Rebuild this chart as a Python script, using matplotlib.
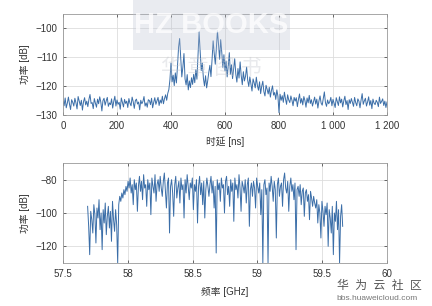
import numpy as np
import matplotlib.pyplot as plt
from matplotlib.patches import Rectangle

plt.rcParams['font.family'] = ['Liberation Sans', 'Noto Sans CJK SC', 'DejaVu Sans']

# power delay profile, one sample every 4 ns from 0 to 1200 ns
delay_step = 4
pdp_db = [
    -125.3, -126.8, -124.1, -127.5, -125.9, -123.8, -126.2, -128.1, -124.7, -125.6,
    -126.9, -124.2, -125.8, -127.9, -123.6, -125.1, -126.7, -124.9, -128.3, -125.4,
    -124.0, -126.5, -125.2, -127.1, -124.6, -122.9, -126.0, -125.7, -127.8, -124.3,
    -125.9, -127.3, -124.5, -126.1, -123.7, -125.5, -128.6, -125.0, -124.2, -126.6,
    -125.1, -123.9, -127.0, -125.8, -126.4, -124.4, -127.6, -125.3, -123.5, -126.9,
    -124.8, -126.3, -125.6, -128.0, -124.1, -125.7, -127.2, -124.6, -126.0, -125.2,
    -127.4, -124.3, -125.9, -126.8, -123.8, -125.4, -127.7, -125.0, -124.5, -126.2,
    -125.5, -128.2, -124.9, -126.1, -125.3, -123.6, -126.9, -125.8, -127.3, -124.7,
    -125.0, -126.4, -124.2, -127.5, -125.6, -124.0, -126.3, -125.1, -123.9, -126.7,
    -124.8, -125.9, -123.5, -126.1, -124.3, -123.0, -124.9, -122.5, -121.2, -117.8,
    -112.0, -118.5, -116.2, -119.8, -115.4, -118.9, -113.1, -106.5, -103.5, -110.2,
    -116.8, -113.4, -108.7, -117.5, -119.6, -116.0, -121.3, -118.2, -120.5, -117.1,
    -119.4, -115.9, -118.8, -114.3, -117.6, -109.5, -101.2, -107.8, -114.6, -112.0,
    -117.3, -119.9, -116.4, -120.6, -118.1, -115.2, -112.8, -116.7, -110.9, -104.3,
    -108.6, -112.4, -106.9, -100.8, -105.5, -110.7, -103.9, -108.2, -113.5, -109.1,
    -114.7, -111.3, -116.8, -113.0, -108.4, -115.9, -112.6, -117.4, -114.1, -110.5,
    -115.8, -118.6, -113.9, -117.2, -111.6, -116.3, -119.5, -115.0, -118.2, -116.6,
    -113.4, -117.9, -120.1, -116.8, -119.2, -121.7, -117.5, -118.9, -120.6, -116.9,
    -119.8, -121.4, -118.5, -122.6, -120.0, -118.3, -121.9, -123.4, -119.7, -121.1,
    -122.7, -120.4, -123.8, -121.5, -119.9, -123.1, -122.2, -124.6, -121.3, -123.5,
    -129.2, -122.8, -124.9, -123.3, -125.6, -122.1, -124.4, -126.3, -123.0, -124.8,
    -125.7, -123.4, -124.9, -126.8, -123.9, -125.2, -124.0, -127.1, -124.6, -122.7,
    -125.9, -124.3, -126.5, -123.6, -125.0, -127.3, -124.1, -125.8, -123.2, -126.0,
    -124.7, -126.9, -125.3, -123.8, -126.2, -124.5, -127.6, -125.1, -123.4, -125.9,
    -126.6, -124.2, -122.0, -125.7, -127.0, -124.8, -126.1, -125.4, -123.9, -126.8,
    -124.6, -125.9, -127.4, -124.0, -125.3, -126.7, -123.7, -125.8, -124.5, -127.2,
    -125.1, -123.5, -126.4, -125.0, -128.1, -124.7, -126.0, -124.3, -125.6, -127.0,
    -123.9, -125.7, -126.8, -124.4, -125.2, -127.5, -124.8, -122.6, -126.3, -125.1,
    -124.2, -126.9, -125.5, -123.7, -126.6, -125.0, -127.8, -124.5, -125.9, -126.4,
    -124.9, -125.6, -127.1, -123.8, -126.0, -125.3, -124.4, -126.7, -125.2, -127.4,
    -125.5,
]

# frequency response, one sample every 8 MHz from 57.69 GHz
freq_start = 57.69
freq_step = 0.008
fr_db = [
    -96, -108, -125, -99, -104, -112, -95, -101, -118, -97,
    -103, -92, -110, -100, -122, -98, -106, -94, -113, -102,
    -96, -109, -99, -117, -93, -104, -111, -98, -107, -130,
    -95, -90, -93, -88, -91, -86, -89, -84, -87, -81,
    -85, -79, -88, -83, -95, -80, -86, -82, -99, -84,
    -78, -87, -81, -92, -77, -85, -83, -96, -80, -86,
    -82, -101, -79, -84, -88, -77, -93, -83, -80, -87,
    -78, -85, -90, -81, -76, -86, -97, -82, -79, -112,
    -84, -80, -88, -102, -83, -78, -91, -85, -81, -94,
    -79, -86, -83, -103, -80, -88, -77, -84, -92, -82,
    -85, -79, -98, -83, -87, -80, -106, -84, -78, -89,
    -82, -95, -81, -103, -86, -79, -84, -90, -83, -78,
    -88, -81, -97, -84, -124, -80, -86, -82, -93, -79,
    -85, -83, -100, -81, -78, -89, -84, -96, -80, -87,
    -82, -105, -79, -86, -83, -91, -77, -85, -99, -81,
    -84, -88, -80, -94, -83, -79, -108, -86, -82, -90,
    -81, -85, -97, -79, -84, -88, -82, -101, -86, -130,
    -83, -80, -89, -85, -130, -82, -87, -78, -84, -93,
    -81, -86, -115, -83, -79, -90, -84, -82, -96, -80,
    -76, -85, -88, -81, -99, -84, -79, -87, -83, -92,
    -82, -122, -86, -84, -90, -83, -95, -87, -85, -102,
    -88, -86, -93, -89, -104, -87, -91, -96, -90, -94,
    -97, -92, -106, -95, -100, -115, -93, -99, -108, -96,
    -101, -94, -120, -98, -103, -112, -96, -125, -100, -105,
    -93, -110, -98, -130, -102, -95, -108,
]

delay_ticks = [0, 200, 400, 600, 800, 1000, 1200]
delay_labels = ['0', '200', '400', '600', '800', '1 000', '1 200']
freq_ticks = [57.5, 58, 58.5, 59, 59.5, 60]
freq_labels = ['57.5', '58', '58.5', '59', '59.5', '60']

delay = np.arange(len(pdp_db)) * delay_step
freq = freq_start + np.arange(len(fr_db)) * freq_step

line_color = '#3b6ea8'
text_color = '#333333'

fig = plt.figure(figsize=(4.32, 3.06), dpi=100)
ax1 = fig.add_axes([63 / 432, 1 - 115 / 306, 324 / 432, 101 / 306])
ax2 = fig.add_axes([63 / 432, 1 - 263 / 306, 324 / 432, 100 / 306])

for ax in (ax1, ax2):
    ax.grid(True, color='#dddddd', linewidth=0.6)
    ax.set_axisbelow(True)
    for s in ax.spines.values():
        s.set_color('#999999')
        s.set_linewidth(0.6)
    ax.tick_params(labelsize=7, colors=text_color, length=2, width=0.5,
                   direction='in', top=True, right=True, pad=4)

ax1.plot(delay, pdp_db, color=line_color, linewidth=0.7)
ax1.set_xlim(0, 1200)
ax1.set_ylim(-130, -95)
ax1.set_yticks([-130, -120, -110, -100])
ax1.set_xticks(delay_ticks)
ax1.set_xticklabels(delay_labels)
ax1.set_xlabel('时延 [ns]', fontsize=7, color=text_color, labelpad=4)
ax1.set_ylabel('功率 [dB]', fontsize=7, color=text_color, labelpad=4)

ax2.plot(freq, fr_db, color=line_color, linewidth=0.7)
ax2.set_xlim(57.5, 60)
ax2.set_ylim(-130, -70)
ax2.set_yticks([-120, -100, -80])
ax2.set_xticks(freq_ticks)
ax2.set_xticklabels(freq_labels)
ax2.set_xlabel('频率 [GHz]', fontsize=7, color=text_color, labelpad=6)
ax2.set_ylabel('功率 [dB]', fontsize=7, color=text_color, labelpad=4)

# faint publisher watermark over the top plot
fig.patches.append(Rectangle((133 / 432, 1 - 50 / 306), 157 / 432, 50 / 306,
                             transform=fig.transFigure, facecolor='#b8bfd0',
                             alpha=0.3, edgecolor='none', zorder=5))
fig.text(211 / 432, 1 - 25 / 306, 'HZ BOOKS', fontsize=21, fontweight='bold',
         color='white', alpha=0.75, ha='center', va='center', zorder=6)
fig.text(211 / 432, 1 - 68 / 306, '华 章 图 书', fontsize=15, color='#c0c4cc',
         alpha=0.35, ha='center', va='center', zorder=6)

# site watermark, bottom right
fig.text(379 / 432, 1 - 286 / 306, '华  为  云  社  区', fontsize=8.5, color='#555555',
         ha='center', va='center')
fig.text(377 / 432, 1 - 299 / 306, 'bbs.huaweicloud.com', fontsize=6, color='#777777',
         ha='center', va='center')

fig.savefig('out.png', dpi=100)
